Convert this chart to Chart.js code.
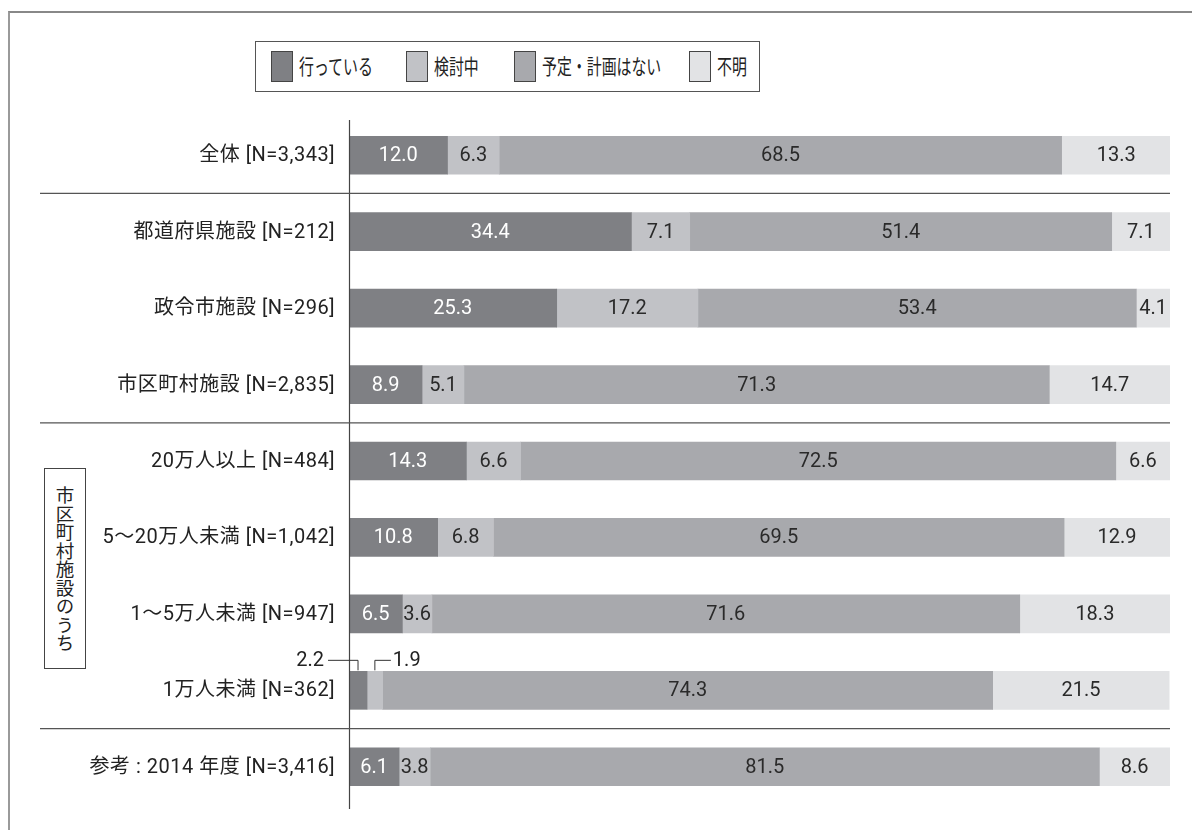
<!DOCTYPE html>
<html><head><meta charset="utf-8">
<script src="https://cdn.jsdelivr.net/npm/chart.js@4"></script>
<style>
body{margin:0;background:#fff;}
#wrap{position:relative;width:1192px;height:830px;overflow:hidden;font-family:Roboto,"Noto Sans CJK JP",sans-serif;color:#222;}
#frame{position:absolute;left:8px;top:11px;width:1300px;height:1000px;border-left:2px solid #9a9a9a;border-top:2px solid #888;}
#legend{position:absolute;left:255px;top:41px;width:503px;height:49px;border:1.5px solid #555;background:#fff;}
.sw{position:absolute;top:9px;width:20px;height:29px;border:1px solid #444;}
.lt{position:absolute;top:8px;font-size:21px;line-height:30px;white-space:nowrap;font-family:"Noto Sans CJK JP",sans-serif;transform:scaleX(0.71);transform-origin:0 50%;color:#222;}
#vbox{position:absolute;left:44px;top:468px;width:40px;height:199px;border:1.5px solid #444;background:#fff;}
#vbox span{position:absolute;left:50%;top:50%;transform:translate(-50%,-50%);writing-mode:vertical-rl;font-size:18.5px;font-family:"Noto Sans CJK JP",sans-serif;white-space:nowrap;color:#222;}
canvas{position:absolute;left:0;top:0;}
</style></head>
<body><div id="wrap">
<div id="frame"></div>
<canvas id="c" width="1192" height="830"></canvas>
<div id="legend"></div>
<div id="vbox"><span>市区町村施設のうち</span></div>
</div>
<script>
const categories = ['全体 [N=3,343]','都道府県施設 [N=212]','政令市施設 [N=296]','市区町村施設 [N=2,835]','20万人以上 [N=484]','5〜20万人未満 [N=1,042]','1〜5万人未満 [N=947]','1万人未満 [N=362]','参考 : 2014 年度 [N=3,416]'];
const seriesNames = ['行っている','検討中','予定・計画はない','不明'];
const doing = [12.0,34.4,25.3,8.9,14.3,10.8,6.5,2.2,6.1];
const considering = [6.3,7.1,17.2,5.1,6.6,6.8,3.6,1.9,3.8];
const noPlan = [68.5,51.4,53.4,71.3,72.5,69.5,71.6,74.3,81.5];
const unknown = [13.3,7.1,4.1,14.7,6.6,12.9,18.3,21.5,8.6];
const separatorsAfter = [0,3,7];

const colors = ['#7f8084','#c1c2c6','#a8a9ad','#e2e3e5'];
const textColors = ['#ffffff','#2a2a2a','#2a2a2a','#2a2a2a'];

// legend
const legendLeft = [15,150,258,433];
const lg = document.getElementById('legend');
seriesNames.forEach((n,i)=>{
  const s=document.createElement('div');s.className='sw';s.style.left=legendLeft[i]+'px';s.style.background=colors[i];lg.appendChild(s);
  const t=document.createElement('div');t.className='lt';t.style.left=(legendLeft[i]+28)+'px';t.textContent=n;lg.appendChild(t);
});

const LABEL_FONT = '20px Roboto, "Noto Sans CJK JP", sans-serif';
const VALUE_FONT = '20px Roboto, "Noto Sans CJK JP", sans-serif';

const decor = {
  id:'decor',
  afterDatasetsDraw(chart){
    const ctx=chart.ctx, ca=chart.chartArea, y=chart.scales.y;
    ctx.save();
    // axis line
    ctx.strokeStyle='#444';ctx.lineWidth=1.2;
    ctx.beginPath();ctx.moveTo(ca.left+0.5,ca.top+3);ctx.lineTo(ca.left+0.5,ca.bottom+4);ctx.stroke();
    // separators
    ctx.strokeStyle='#555';ctx.lineWidth=1.3;
    separatorsAfter.forEach(i=>{
      const yy=(y.getPixelForValue(i)+y.getPixelForValue(i+1))/2;
      ctx.beginPath();ctx.moveTo(40,yy);ctx.lineTo(ca.right,yy);ctx.stroke();
    });
    // category labels
    ctx.font=LABEL_FONT;ctx.fillStyle='#222';ctx.textAlign='right';ctx.textBaseline='middle';
    ctx.letterSpacing='0.5px';
    categories.forEach((c,i)=>{ctx.fillText(c,ca.left-14,y.getPixelForValue(i)+1);});
    ctx.letterSpacing='0px';
    // value labels
    ctx.font=VALUE_FONT;
    chart.data.datasets.forEach((ds,di)=>{
      const meta=chart.getDatasetMeta(di);
      meta.data.forEach((bar,i)=>{
        const v=ds.data[i];
        const w=Math.abs(bar.x-bar.base);
        const cx=(bar.x+bar.base)/2;
        const txt=v.toFixed(1);
        if(w<24){
          const top=bar.y-bar.height/2;
          const ly=top-11;
          ctx.strokeStyle='#333';ctx.lineWidth=1;
          ctx.fillStyle='#222';ctx.textBaseline='middle';
          ctx.beginPath();
          if(di===0){
            ctx.moveTo(cx,top-1);ctx.lineTo(cx,ly);ctx.lineTo(cx-30,ly);ctx.stroke();
            ctx.textAlign='right';ctx.fillText(txt,cx-34,ly+1);
          }else{
            ctx.moveTo(cx,top-1);ctx.lineTo(cx,ly);ctx.lineTo(cx+16,ly);ctx.stroke();
            ctx.textAlign='left';ctx.fillText(txt,cx+18,ly+1);
          }
        }else{
          ctx.fillStyle=textColors[di];ctx.textAlign='center';ctx.textBaseline='middle';
          ctx.fillText(txt,cx,bar.y+1);
        }
      });
    });
    ctx.restore();
  }
};

new Chart(document.getElementById('c'),{
  type:'bar',
  data:{labels:categories,datasets:[doing,considering,noPlan,unknown].map((d,i)=>({label:seriesNames[i],data:d,backgroundColor:colors[i],borderWidth:0,barThickness:38}))},
  options:{
    indexAxis:'y',responsive:false,animation:false,
    layout:{padding:{left:349,right:22,top:117,bottom:25}},
    plugins:{legend:{display:false},tooltip:{enabled:false}},
    scales:{
      x:{stacked:true,min:0,max:100,display:false},
      y:{stacked:true,display:false}
    }
  },
  plugins:[decor]
});
</script>
</body></html>
